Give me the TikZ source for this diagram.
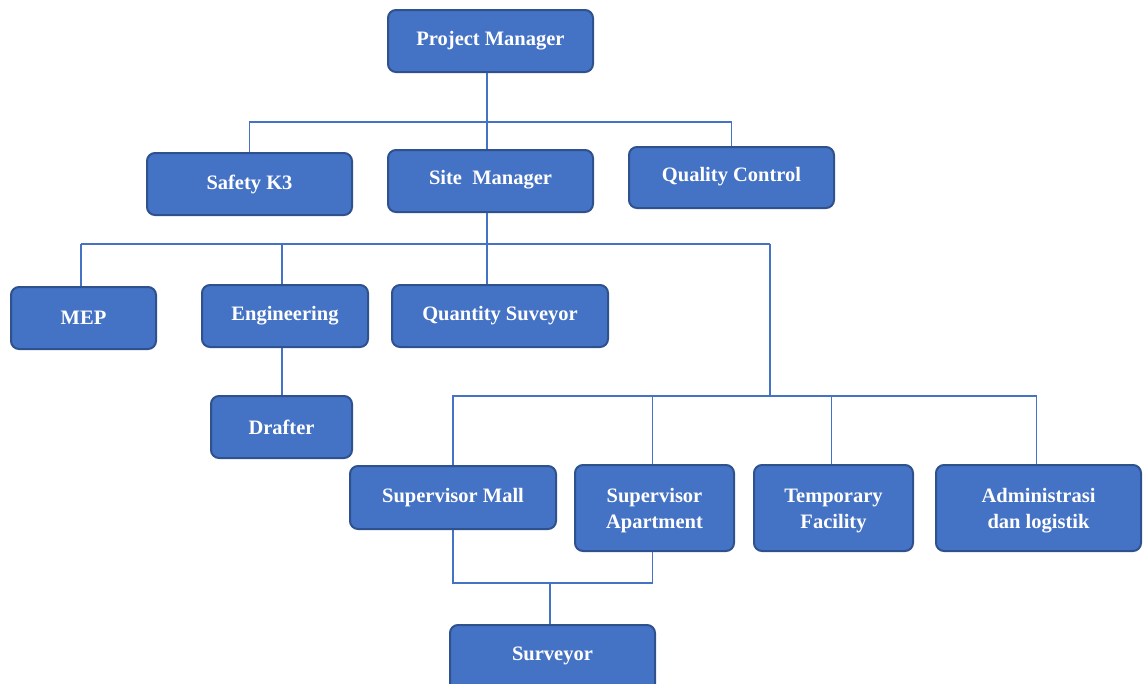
\documentclass[tikz,border=0pt]{standalone}
\usepackage{fontspec}
\setmainfont{Liberation Serif}
\definecolor{boxfill}{HTML}{4472C4}
\definecolor{boxline}{HTML}{2F528F}
\definecolor{conn}{HTML}{4472C4}
\begin{document}
\begin{tikzpicture}[x=1pt,y=-1pt,
  box/.style={draw=boxline, line width=2pt, fill=boxfill, rounded corners=8pt, inner sep=0pt},
  lbl/.style={text=white, font=\fontsize{20.5}{26}\selectfont\bfseries, align=center, inner sep=0pt},
  link/.style={draw=conn, line width=1.1pt}]
\useasboundingbox (0,0) rectangle (1143,683);
% boxes
\newcommand{\mkbox}[5]{% name, x1, y1, x2, y2
  \node[box, minimum width=#4-#2, minimum height=#5-#3] (#1) at ({(#2+#4)/2},{(#3+#5)/2}) {};
}
\mkbox{pm}{388}{10}{593}{72}
\mkbox{k3}{147}{153}{352}{215}
\mkbox{sm}{388}{150}{593}{212}
\mkbox{qc}{629}{147}{834}{208}
\mkbox{mep}{11}{287}{156}{349}
\mkbox{eng}{202}{285}{368}{347}
\mkbox{qs}{392}{285}{608}{347}
\mkbox{dr}{211}{396}{352}{458}
\mkbox{small}{350}{466}{556}{529}
\mkbox{sapt}{575}{465}{734}{551}
\mkbox{tf}{754}{465}{913}{551}
\mkbox{adm}{936}{465}{1141}{551}
\mkbox{sv}{450}{625}{655}{692}
% labels
\node[lbl] at (pm.center) {Project Manager};
\node[lbl] at (k3.center) {Safety K3};
\node[lbl] at ([yshift=1pt]sm.center) {Site~ Manager};
\node[lbl] at ([yshift=1pt]qc.center) {Quality Control};
\node[lbl] at (mep.center) {MEP};
\node[lbl] at (eng.center) {Engineering};
\node[lbl] at (qs.center) {Quantity Suveyor};
\node[lbl] at (dr.center) {Drafter};
\node[lbl] at (small.center) {Supervisor Mall};
\node[lbl] at ([yshift=-3pt]sapt.center) {Supervisor\\Apartment};
\node[lbl] at ([yshift=-3pt]tf.center) {Temporary\\Facility};
\node[lbl] at ([yshift=-3pt]adm.center) {Administrasi\\dan logistik};
\node[lbl] at ([yshift=3pt]sv.center) {Surveyor};
% junction coordinates
\coordinate (j1) at (487,122);
\coordinate (j2) at (487,244);
\coordinate (j2l) at (81,244);
\coordinate (j2r) at (770,244);
\coordinate (j3) at (770,396);
\coordinate (j4) at (550,583);
% connectors
\draw[link] (pm.south -| j1) -- (j1);
\draw[link] (k3.north) -- (k3.north |- j1) -- (qc.north |- j1) -- (qc.north);
\draw[link] (j1) -- (sm.north -| j1);
\draw[link] (sm.south -| j2) -- (j2);
\draw[link] (j2l) -- (j2r);
\draw[link] (mep.north -| j2l) -- (j2l);
\draw[link] ([xshift=-3pt]eng.north) -- ([xshift=-3pt]eng.north |- j2l);
\draw[link] (j2) -- (j2 |- qs.north);
\draw[link] (j2r) -- (j3);
\draw[link] ([xshift=-3pt]eng.south) -- ([xshift=-3pt]dr.north -| eng.south);
\draw[link] (small.north) -- (small.north |- j3) -- ([xshift=-2pt]adm.north |- j3) -- ([xshift=-2pt]adm.north);
\draw[link] ([xshift=-2pt]sapt.north) -- ([xshift=-2pt]sapt.north |- j3);
\draw[link] ([xshift=-2pt]tf.north) -- ([xshift=-2pt]tf.north |- j3);
\draw[link] (small.south) -- (small.south |- j4) -- ([xshift=-2pt]sapt.south |- j4) -- ([xshift=-2pt]sapt.south);
\draw[link] (j4) -- (j4 |- sv.north);
\end{tikzpicture}
\end{document}
